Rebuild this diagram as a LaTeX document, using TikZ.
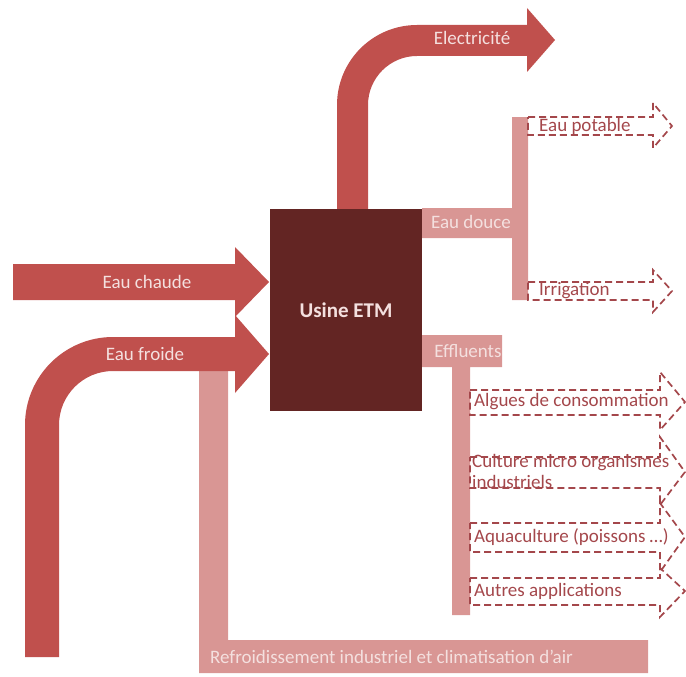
\documentclass[tikz,border=0pt]{standalone}
\usepackage{fontspec}
\setmainfont{Carlito}
\usepackage{xcolor}
\usepackage{tikz}
\definecolor{rougeflux}{HTML}{C0504D}
\definecolor{roseflux}{HTML}{D99694}
\definecolor{brunusine}{HTML}{632523}
\definecolor{traitsortie}{HTML}{A4474B}
\definecolor{texteclair}{HTML}{F4E0DF}
\tikzset{
  flux/.style={fill=rougeflux},
  branche/.style={fill=roseflux},
  sortie/.style={draw=traitsortie, line width=1.7pt, dash pattern=on 7pt off 4pt},
  etiq/.style={text=texteclair, font=\fontsize{19}{21}\selectfont, inner sep=0pt},
  etiqsortie/.style={text=traitsortie, font=\fontsize{19}{21}\selectfont, inner sep=0pt, anchor=west}
}

\begin{document}
\begin{tikzpicture}[x=1pt,y=-1pt]
\useasboundingbox (0,0) rectangle (686,677);

\path[branche] (199,371) -- (228,371) -- (228,640) -- (648,640) -- (648,673) -- (199,673) -- cycle;
\path[branche] (422,208) -- (512,208) -- (512,117) -- (528,117) -- (528,300) -- (512,300) -- (512,238) -- (422,238) -- cycle;
\path[branche] (422,335) -- (502,335) -- (502,367) -- (470,367) -- (470,615) -- (452,615) -- (452,367) -- (422,367) -- cycle;

\path[flux] (337,209) -- (337,105) arc[start angle=180, end angle=270, radius=80] -- (527,25) -- (527,8) -- (555,40) -- (527,72) -- (527,56) -- (417,56) arc[start angle=270, end angle=180, radius=49] -- (368,209) -- cycle;
\path[flux] (13,264) -- (235,264) -- (235,247) -- (269,282) -- (235,317) -- (235,300) -- (13,300) -- cycle;
\path[flux] (25,657) -- (25,425) arc[start angle=180, end angle=270, radius=88] -- (235,337) -- (235,315) -- (269,354) -- (235,393) -- (235,371) -- (113,371) arc[start angle=270, end angle=180, radius=54] -- (59,657) -- cycle;

\node at (346,310) (usine)[fill=brunusine, minimum width=152pt, minimum height=202pt, text=texteclair, font=\fontsize{21}{24}\selectfont\bfseries]{Usine ETM};

\draw[sortie] (528,117) -- (653,117) -- (653,103) -- (672,126) -- (653,148) -- (653,135) -- (528,135) -- cycle;
\draw[sortie] (528,282) -- (653,282) -- (653,270) -- (672,291) -- (653,312) -- (653,300) -- (528,300) -- cycle;
\draw[sortie] (470,390) -- (660,390) -- (660,372) -- (685,402) -- (660,430) -- (660,415) -- (470,415) -- cycle;
\draw[sortie] (470,457) -- (660,457) -- (660,437) -- (685,472) -- (660,505) -- (660,488) -- (470,488) -- cycle;
\draw[sortie] (470,523) -- (660,523) -- (660,503) -- (685,537) -- (660,572) -- (660,552) -- (470,552) -- cycle;
\draw[sortie] (470,578) -- (660,578) -- (660,568) -- (685,591) -- (660,617) -- (660,605) -- (470,605) -- cycle;

\node at (472,38) (elec)[etiq]{Electricité};
\node at (147,282) (chaude)[etiq]{Eau chaude};
\node at (145,354) (froide)[etiq]{Eau froide};
\node at (471,222) (douce)[etiq]{Eau douce};
\node at (468,351) (effluents)[etiq]{Effluents};
\node at (210,657) (refroid)[etiq, anchor=west]{Refroidissement industriel et climatisation d’air};

\node at (539,126) (potable)[etiqsortie]{Eau potable};
\node at (539,291) (irrig)[etiqsortie]{Irrigation};
\node at (474,402) (algues)[etiqsortie]{Algues de consommation};
\node at (472,471) (culture)[etiqsortie, align=left]{Culture micro organismes\\industriels};
\node at (474,537) (aqua)[etiqsortie]{Aquaculture (poissons …)};
\node at (474,591) (autres)[etiqsortie]{Autres applications};
\end{tikzpicture}
\end{document}
